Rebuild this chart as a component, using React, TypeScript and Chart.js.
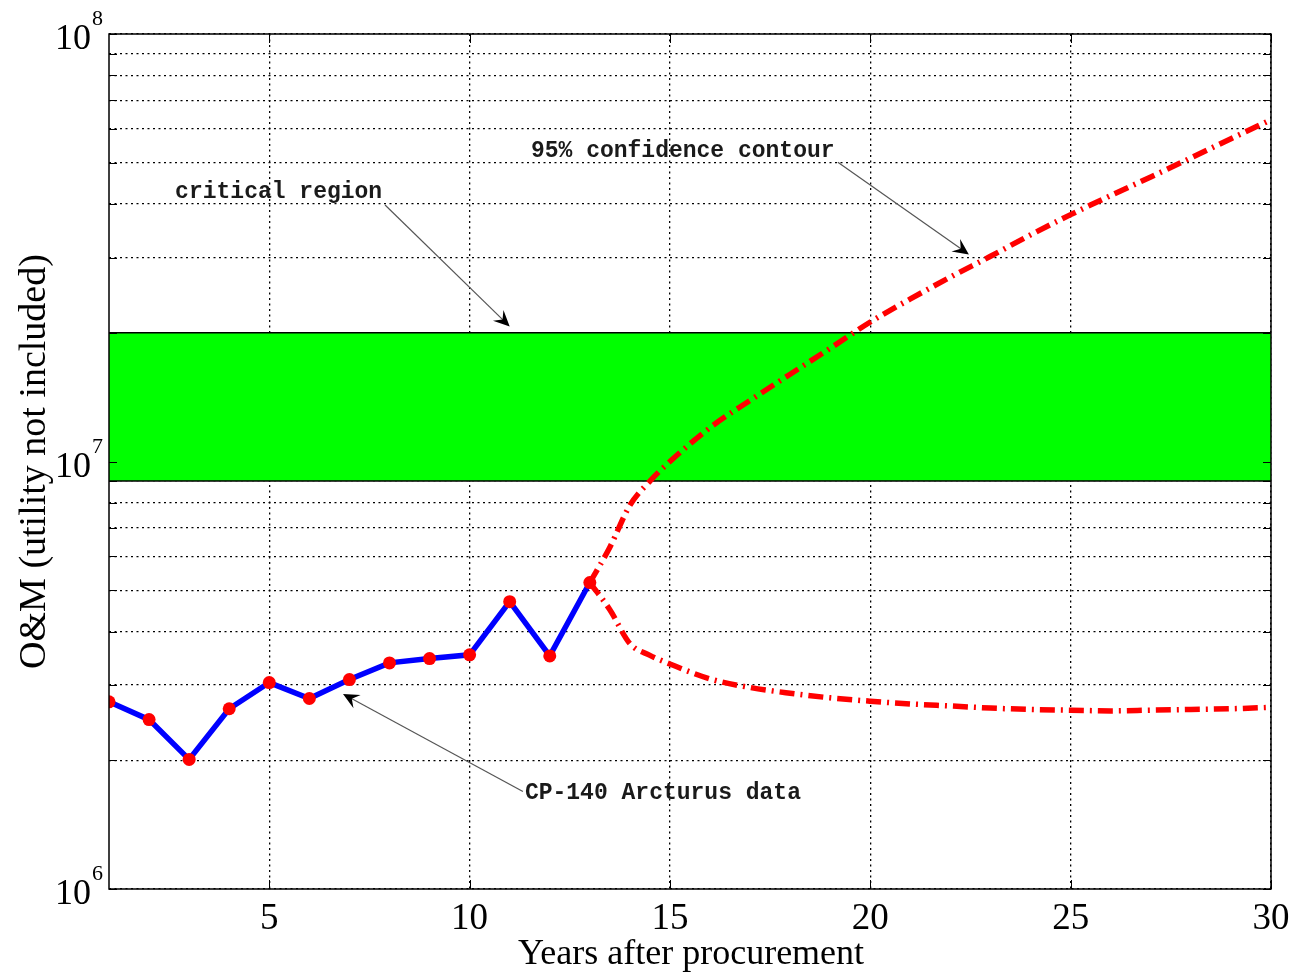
import React, { useEffect, useRef } from "react";
import { Chart, registerables } from "chart.js";

Chart.register(...registerables);

// ---------- data ----------
const years = [1, 2, 3, 4, 5, 6, 7, 8, 9, 10, 11, 12, 13];
const omCost = [2.74e6, 2.49e6, 2.01e6, 2.64e6, 3.04e6, 2.79e6, 3.09e6, 3.38e6, 3.46e6, 3.53e6, 4.70e6, 3.51e6, 5.21e6];

const contourYears = [13, 13.5, 14, 14.5, 15, 16, 17, 18, 19, 20, 21, 22, 23, 24, 25, 26, 27, 28, 29, 30];
const upperContour = [5.21e6, 6.3e6, 7.9e6, 9.0e6, 1.0e7, 1.2e7, 1.39e7, 1.6e7, 1.84e7, 2.12e7, 2.4e7, 2.7e7, 3.02e7, 3.39e7, 3.78e7, 4.19e7, 4.63e7, 5.13e7, 5.69e7, 6.3e7];
const lowerContour = [5.21e6, 4.5e6, 3.75e6, 3.52e6, 3.36e6, 3.1e6, 2.96e6, 2.87e6, 2.8e6, 2.75e6, 2.71e6, 2.68e6, 2.65e6, 2.63e6, 2.62e6, 2.61e6, 2.62e6, 2.63e6, 2.64e6, 2.66e6];

const bandYears = [1, 30];
const bandTop = [2e7, 2e7];
const bandBottom = [9e6, 9e6];

const xTicks = [5, 10, 15, 20, 25, 30];
const yDecades = [1e6, 1e7];
const yMultipliers = [1, 2, 3, 4, 5, 6, 7, 8, 9];
const yLabelExponents = [6, 7, 8];

const xTitle = "Years after procurement";
const yTitle = "O&M (utility not included)";

const annotTexts = ["critical region", "95% confidence contour", "CP-140 Arcturus data"];
const annotTextX = [2.65, 11.53, 11.38];
const annotTextY = [4.13e7, 5.15e7, 1.62e6];
const arrowFromX = [7.89, 19.19, 11.33];
const arrowFromY = [3.98e7, 5.01e7, 1.69e6];
const arrowToX = [11.0, 22.46, 6.84];
const arrowToY = [2.07e7, 3.05e7, 2.86e6];

const yGridValues: number[] = [];
yDecades.forEach((d) => yMultipliers.forEach((m) => yGridValues.push(d * m)));
yGridValues.push(1e8);

const pts = (xs: number[], ys: number[]) => xs.map((x, i) => ({ x, y: ys[i] }));

const SERIF = "'Liberation Serif', 'Times New Roman', serif";
const MONO = "'Liberation Mono', 'Courier New', monospace";

const overlay = {
  id: "overlay",
  afterDraw(chart: any) {
    const { ctx, chartArea, scales } = chart;
    const { left, right, top, bottom } = chartArea;
    const xs = scales.x;
    const ys = scales.y;
    ctx.save();
    ctx.setLineDash([]);
    ctx.strokeStyle = "#000";
    ctx.lineWidth = 1;
    const line = (x1: number, y1: number, x2: number, y2: number) => {
      ctx.beginPath();
      ctx.moveTo(x1, y1);
      ctx.lineTo(x2, y2);
      ctx.stroke();
    };
    // inward tick marks
    xTicks.forEach((v) => {
      const px = Math.round(xs.getPixelForValue(v)) + 0.5;
      line(px, bottom, px, bottom - 9);
      line(px, top, px, top + 9);
    });
    yGridValues.forEach((v) => {
      const py = Math.round(ys.getPixelForValue(v)) + 0.5;
      line(left, py, left + 8, py);
      line(right, py, right - 8, py);
    });
    // box
    ctx.lineWidth = 1.5;
    ctx.strokeRect(left, top, right - left, bottom - top);

    // x tick labels
    ctx.fillStyle = "#000";
    ctx.font = `37px ${SERIF}`;
    ctx.textAlign = "center";
    ctx.textBaseline = "alphabetic";
    xTicks.forEach((v) => {
      ctx.fillText(String(v), xs.getPixelForValue(v), bottom + 40);
    });
    // y tick labels with superscripts
    yLabelExponents.forEach((e) => {
      const py = ys.getPixelForValue(Math.pow(10, e));
      ctx.font = `36px ${SERIF}`;
      ctx.textAlign = "right";
      ctx.fillText("10", left - 18, py + 15);
      ctx.font = `22px ${SERIF}`;
      ctx.textAlign = "left";
      ctx.fillText(String(e), left - 17, py - 9);
    });
    // axis titles
    ctx.font = `36px ${SERIF}`;
    ctx.textAlign = "center";
    ctx.fillText(xTitle, (left + right) / 2 + 1, bottom + 75);
    ctx.save();
    ctx.translate(left - 64, (top + bottom) / 2);
    ctx.rotate(-Math.PI / 2);
    ctx.font = `38px ${SERIF}`;
    ctx.fillText(yTitle, 0, 0);
    ctx.restore();

    // annotations
    ctx.font = `bold 23px ${MONO}`;
    ctx.textAlign = "left";
    ctx.fillStyle = "#1a1a1a";
    annotTexts.forEach((t, i) => {
      ctx.fillText(t, xs.getPixelForValue(annotTextX[i]), ys.getPixelForValue(annotTextY[i]));
    });
    annotTexts.forEach((_, i) => {
      const x1 = xs.getPixelForValue(arrowFromX[i]);
      const y1 = ys.getPixelForValue(arrowFromY[i]);
      const x2 = xs.getPixelForValue(arrowToX[i]);
      const y2 = ys.getPixelForValue(arrowToY[i]);
      const ang = Math.atan2(y2 - y1, x2 - x1);
      ctx.strokeStyle = "#555";
      ctx.lineWidth = 1.2;
      ctx.beginPath();
      ctx.moveTo(x1, y1);
      ctx.lineTo(x2 - 8 * Math.cos(ang), y2 - 8 * Math.sin(ang));
      ctx.stroke();
      ctx.save();
      ctx.translate(x2, y2);
      ctx.rotate(ang);
      ctx.fillStyle = "#000";
      ctx.beginPath();
      ctx.moveTo(0, 0);
      ctx.lineTo(-16, 7.5);
      ctx.lineTo(-10, 0);
      ctx.lineTo(-16, -7.5);
      ctx.closePath();
      ctx.fill();
      ctx.restore();
    });
    ctx.restore();
  },
};

export default function App() {
  const ref = useRef<HTMLCanvasElement>(null);
  useEffect(() => {
    if (!ref.current) return;
    const chart = new Chart(ref.current, {
      type: "line",
      data: {
        datasets: [
          {
            label: "critical region top",
            data: pts(bandYears, bandTop),
            borderColor: "#000",
            borderWidth: 1.5,
            backgroundColor: "#00ff00",
            fill: "+1",
            pointRadius: 0,
            order: 10,
          },
          {
            label: "critical region bottom",
            data: pts(bandYears, bandBottom),
            borderColor: "#000",
            borderWidth: 1.5,
            fill: false,
            pointRadius: 0,
            order: 9,
          },
          {
            label: "upper 95% contour",
            data: pts(contourYears, upperContour),
            borderColor: "#ff0000",
            borderWidth: 5.5,
            borderDash: [15, 6, 2, 6],
            cubicInterpolationMode: "monotone",
            fill: false,
            pointRadius: 0,
            order: 5,
          },
          {
            label: "lower 95% contour",
            data: pts(contourYears, lowerContour),
            borderColor: "#ff0000",
            borderWidth: 5.5,
            borderDash: [15, 6, 2, 6],
            cubicInterpolationMode: "monotone",
            fill: false,
            pointRadius: 0,
            order: 5,
          },
          {
            label: "CP-140 Arcturus data",
            data: pts(years, omCost),
            borderColor: "#0000ff",
            borderWidth: 5.5,
            fill: false,
            pointRadius: 6.5,
            pointBackgroundColor: "#ff0000",
            pointBorderColor: "#ff0000",
            pointBorderWidth: 0,
            order: 1,
          },
        ],
      },
      options: {
        animation: false,
        responsive: false,
        layout: { padding: { left: 109, right: 26, top: 34, bottom: 87 } },
        plugins: { legend: { display: false }, tooltip: { enabled: false } },
        scales: {
          x: {
            type: "linear",
            min: 1,
            max: 30,
            afterBuildTicks: (s: any) => {
              s.ticks = xTicks.map((v) => ({ value: v }));
            },
            ticks: { display: false },
            grid: { color: "#000", lineWidth: 1.3, drawTicks: false },
            border: { display: false, dash: [2, 3.5] },
          },
          y: {
            type: "logarithmic",
            min: 1e6,
            max: 1e8,
            afterBuildTicks: (s: any) => {
              s.ticks = yGridValues.map((v) => ({ value: v }));
            },
            ticks: { display: false },
            grid: { color: "#000", lineWidth: 1.3, drawTicks: false },
            border: { display: false, dash: [2, 3.5] },
          },
        },
      },
      plugins: [overlay],
    } as any);
    return () => chart.destroy();
  }, []);
  return (
    <div style={{ position: "absolute", left: 0, top: 0, width: 1297, height: 976, background: "#fff" }}>
      <canvas ref={ref} width={1297} height={976} />
    </div>
  );
}
